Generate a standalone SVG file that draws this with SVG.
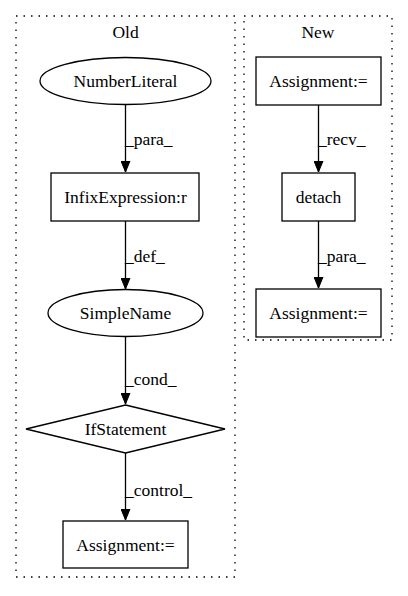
<svg xmlns="http://www.w3.org/2000/svg" width="408" height="596" viewBox="0 0 408 596" font-family="'Liberation Serif', 'DejaVu Serif', serif" font-size="17.5">
<defs>
<marker id="ah" markerWidth="12" markerHeight="10" refX="11.5" refY="5" orient="auto" markerUnits="userSpaceOnUse" viewBox="0 0 12 10">
<path d="M0.5,0.5 L11.5,5 L0.5,9.5 Z" fill="#000" stroke="#000"/>
</marker>
</defs>
<style>
text{fill:#000;text-anchor:middle}
.lbl{text-anchor:start}
.cl{fill:none;stroke:#000;stroke-width:1.3;stroke-dasharray:1.5,6}
.n{fill:#fff;stroke:#000;stroke-width:1.3}
.e{fill:none;stroke:#000;stroke-width:1.3;marker-end:url(#ah)}
</style>
<rect width="408" height="596" fill="#fff"/>
<g id="cluster_old">
<rect class="cl" x="16" y="16" width="219" height="561"/>
<text x="125.5" y="38">Old</text>
</g>
<g id="cluster_new">
<rect class="cl" x="244" y="16" width="148" height="324"/>
<text x="318" y="38">New</text>
</g>
<g id="connectors">
<path class="e" d="M125.5,104 L125.5,172"/>
<text class="lbl" x="125" y="145">_para_</text>
<path class="e" d="M125.5,221 L125.5,289"/>
<text class="lbl" x="125" y="262">_def_</text>
<path class="e" d="M125.5,336 L125.5,404"/>
<text class="lbl" x="125" y="385">_cond_</text>
<path class="e" d="M125.5,453 L125.5,520"/>
<text class="lbl" x="125" y="496">_control_</text>
<path class="e" d="M318.5,105 L318.5,172"/>
<text class="lbl" x="318" y="145">_recv_</text>
<path class="e" d="M318.5,221 L318.5,288"/>
<text class="lbl" x="318" y="262">_para_</text>
</g>
<g id="NumberLiteral">
<ellipse class="n" cx="125.5" cy="81" rx="85.5" ry="23.5"/>
<text x="125.5" y="87">NumberLiteral</text>
</g>
<g id="InfixExpression">
<rect class="n" x="51" y="173" width="148" height="48"/>
<text x="125.5" y="203">InfixExpression:r</text>
</g>
<g id="SimpleName">
<ellipse class="n" cx="125.5" cy="313" rx="77.5" ry="23.5"/>
<text x="125.5" y="319">SimpleName</text>
</g>
<g id="IfStatement">
<polygon class="n" points="125.5,405 225,429 125.5,453 26,429"/>
<text x="125.5" y="435">IfStatement</text>
</g>
<g id="AssignmentOld">
<rect class="n" x="63" y="521" width="125" height="47"/>
<text x="125.5" y="550.5">Assignment:=</text>
</g>
<g id="AssignmentNew1">
<rect class="n" x="256" y="57" width="125" height="48"/>
<text x="318.5" y="87">Assignment:=</text>
</g>
<g id="detach">
<rect class="n" x="282" y="173" width="73" height="48"/>
<text x="318.5" y="203">detach</text>
</g>
<g id="AssignmentNew2">
<rect class="n" x="256" y="289" width="125" height="48"/>
<text x="318.5" y="319">Assignment:=</text>
</g>
</svg>
